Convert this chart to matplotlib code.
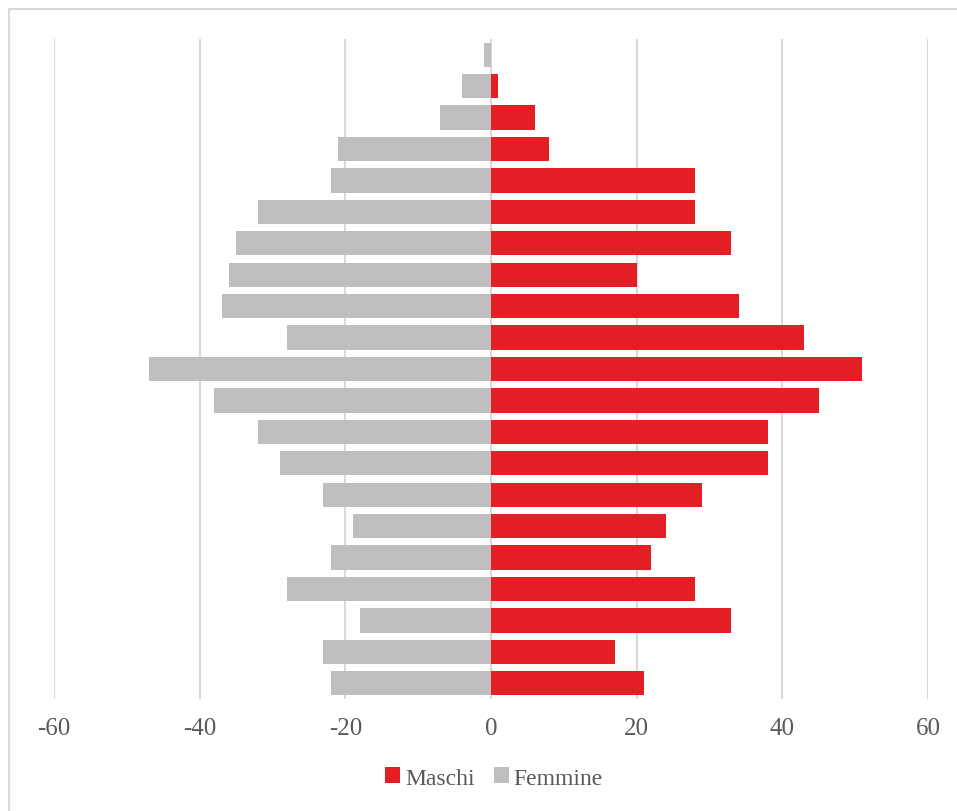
import matplotlib.pyplot as plt
from matplotlib.patches import Rectangle
import numpy as np

plt.rcParams['font.family'] = ['Liberation Serif', 'DejaVu Serif']

# age classes from oldest (top) to youngest (bottom)
maschi = [0, 1, 6, 8, 28, 28, 33, 20, 34, 43, 51, 45, 38, 38, 29, 24, 22, 28, 33, 17, 21]
femmine = [1, 4, 7, 21, 22, 32, 35, 36, 37, 28, 47, 38, 32, 29, 23, 19, 22, 28, 18, 23, 22]
ticks = [-60, -40, -20, 0, 20, 40, 60]

red = '#E31E24'
grey = '#BFBFBF'
text_col = '#595959'

fig = plt.figure(figsize=(9.57, 8.12), dpi=100)
ax = fig.add_axes([54 / 957, 1 - 700 / 812, 874 / 957, 660 / 812])

y = np.arange(len(maschi))
ax.barh(y, maschi, height=0.77, color=red, label='Maschi', zorder=3)
ax.barh(y, -np.array(femmine), height=0.77, color=grey, label='Femmine', zorder=3)

ax.set_xlim(-60, 60)
ax.set_ylim(len(maschi) - 0.5, -0.5)
ax.set_xticks(ticks)
ax.set_xticklabels([str(t) for t in ticks], fontsize=18, color=text_col)
ax.set_yticks([])
ax.tick_params(axis='x', length=0, pad=13)
ax.grid(axis='x', color='#D9D9D9', linewidth=1.5, zorder=0)
for s in ax.spines.values():
    s.set_visible(False)

leg = fig.legend(loc='center', bbox_to_anchor=(494 / 957, 1 - 779 / 812), ncol=2,
                 frameon=False, fontsize=17, handlelength=0.65, handleheight=0.65,
                 handletextpad=0.2, columnspacing=0.8, labelcolor=text_col)

# thin frame around the chart area
fig.patches.append(Rectangle((9 / 957, -0.02), 1.0, 1 - 10 / 812 + 0.02,
                             transform=fig.transFigure, fill=False,
                             edgecolor='#D9D9D9', linewidth=1.5))

fig.savefig('out.png', dpi=100)
